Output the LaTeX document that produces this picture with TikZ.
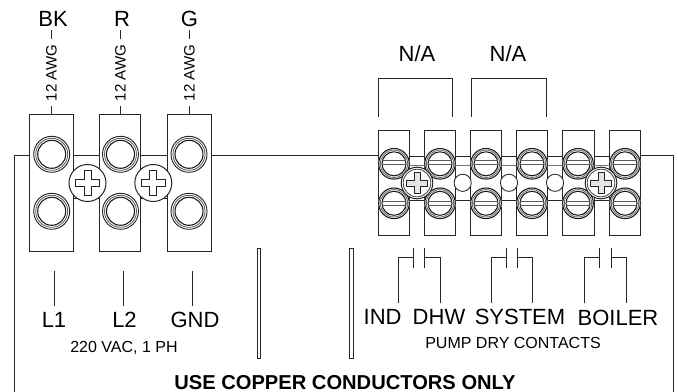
\documentclass[tikz,border=0pt]{standalone}
\usepackage{fontspec}
\setmainfont{Liberation Sans}
\tikzset{
 ln/.style={draw=black!85,line width=0.75pt},
 lab/.style={inner sep=0pt,font=\fontsize{16.5}{18}\selectfont},
 sm/.style={inner sep=0pt,font=\fontsize{12}{14}\selectfont},
 vlab/.style={inner sep=0pt,rotate=90,font=\fontsize{11.3}{13}\selectfont},
}
\newcommand{\bigscrew}[2]{%
 \fill[white] (#1,#2) circle (18.3);
 \draw[black!85,line width=0.7pt] (#1,#2) circle (18);
 \draw[black!65,line width=0.6pt] (#1,#2) circle (16);
 \draw[black!90,line width=0.8pt] (#1,#2) circle (14);
 }
\newcommand{\phil}[4]{%
 \fill[white] (#1,#2) circle (#3);
 \draw[ln] (#1,#2) circle (#3);
 \draw[black!85,line width=0.6pt,fill=black!#4] (#1-#3*0.19,#2-#3*0.66)--(#1+#3*0.19,#2-#3*0.66)--(#1+#3*0.19,#2-#3*0.19)--(#1+#3*0.66,#2-#3*0.19)--(#1+#3*0.66,#2+#3*0.19)--(#1+#3*0.19,#2+#3*0.19)--(#1+#3*0.19,#2+#3*0.66)--(#1-#3*0.19,#2+#3*0.66)--(#1-#3*0.19,#2+#3*0.19)--(#1-#3*0.66,#2+#3*0.19)--(#1-#3*0.66,#2-#3*0.19)--(#1-#3*0.19,#2-#3*0.19)--cycle;}
\newcommand{\slotscrew}[4]{%
 \fill[white] (#1,#2) circle (15.8);
 \draw[black!90,line width=0.8pt] (#1,#2) circle (15.3);
 \draw[black!60,line width=0.6pt] (#1,#2) circle (13.7);
 \draw[black!90,line width=0.8pt] (#1,#2) circle (12);
 \draw[black!65,line width=0.6pt] (#1-12,#2+#3)--(#1+12,#2+#3) (#1-12,#2+#4)--(#1+12,#2+#4);
 }
\begin{document}
\begin{tikzpicture}[x=0.75pt,y=-0.75pt]
\useasboundingbox (0,0) rectangle (678,392);
\fill[white] (0,0) rectangle (678,392);
% frame
\draw[ln] (14,392)--(14,156)--(29.3,156);
\draw[ln] (73.3,156)--(99.7,156) (140.7,156)--(167.3,156) (211.3,156)--(378.3,156);
\draw[ln] (640.3,156)--(673.3,156)--(673.3,392);
% left blocks
\draw[ln] (29.3,251)--(29.3,114.3)--(73.3,114.3)--(73.3,251)--cycle;
\draw[ln] (99.7,251)--(99.7,114.3)--(140.7,114.3)--(140.7,251)--cycle;
\draw[ln] (167.3,251)--(167.3,114.3)--(211.3,114.3)--(211.3,251)--cycle;
\coordinate (w1) at (51.3,114.3);
\coordinate (w2) at (120.3,114.3);
\coordinate (w3) at (189.3,114.3);
\draw[ln] (w1)--(51.3,106.5) (51.3,39)--(51.3,30);
\draw[ln] (w2)--(120.3,106.5) (120.3,39)--(120.3,30);
\draw[ln] (w3)--(189.3,106.5) (189.3,39)--(189.3,30);
\node[vlab] (a1) at (51.5,73) {12 AWG};
\node[vlab] (a2) at (120.5,73) {12 AWG};
\node[vlab] (a3) at (189.5,73) {12 AWG};
\node[lab] (bk) at (53,19) {BK};
\node[lab] (r) at (122,19) {R};
\node[lab] (g) at (189.5,19) {G};
\draw[ln] (73.3,198.5)--(99.7,198.5) (140.7,198.5)--(167.3,198.5);
\foreach \x in {51.7,120.5,189}{\bigscrew{\x}{154.3}\bigscrew{\x}{211.3}}
\phil{87.5}{183}{18.5}{0}\phil{153.3}{183}{18.5}{0}
% right blocks
\foreach \x/\w in {378.3/31.4,424.3/31.4,470.3/31.4,516.7/31,562.7/31.3,609.3/31}
 \draw[ln] (\x,235.5)--(\x,131)--(\x+\w,131)--(\x+\w,235.5)--cycle;
\foreach \a/\b in {409.7/424.3,455.7/470.3,501.7/516.7,547.7/562.7,594/609.3}{
 \draw[ln] (\a,156.3)--(\b,156.3) (\a,200.3)--(\b,200.3);
 \draw[black!55,line width=0.6pt] (\a,165)--(\b,165);}
\foreach \x in {394,440,486,532,578,625}{\slotscrew{\x}{163.8}{-3.5}{0.6}\slotscrew{\x}{203.3}{-2.3}{2.4}}
\phil{417}{183}{15.8}{10}\phil{601}{183}{15.8}{10}
\draw[black!75,line width=0.6pt] (417,183) circle (13.8) (601,183) circle (13.8);
\foreach \x in {462.7,509,555} \draw[black!85,line width=0.65pt,fill=white] (\x,182.8) circle (8.6);
% N/A
\draw[ln] (378.5,117)--(378.5,78.5)--(452.5,78.5)--(452.5,117);
\draw[ln] (471.5,117)--(471.5,78.5)--(546,78.5)--(546,117);
\node[lab] (na1) at (417,54) {N/A};
\node[lab] (na2) at (508,54) {N/A};
% bars
\draw[black!85,line width=0.6pt] (257,248) rectangle (260.7,358);
\draw[black!85,line width=0.6pt] (349.4,248) rectangle (353,358);
% left leads
\draw[ln] (54,271)--(54,305.7) (123,271)--(123,305.7) (192.6,271)--(192.6,305.7);
\node[lab] (l1) at (54,320) {L1};
\node[lab] (l2) at (124.5,320) {L2};
\node[lab] (gnd) at (195,320) {GND};
\node[sm] (vac) at (124,348) {220 VAC, 1 PH};
% contacts
\foreach \a/\b/\c/\d in {398.7/413.5/424.8/440,491.3/506/517.4/532,584/599/611/626}{
 \draw[ln] (\a,303)--(\a,257.5)--(\b,257.5) (\b,247.5)--(\b,268);
 \draw[ln] (\c,247.5)--(\c,268) (\c,257.5)--(\d,257.5)--(\d,303);}
\node[lab] (ind) at (382.6,317) {IND};
\node[lab] (dhw) at (439,317) {DHW};
\node[lab] (sys) at (520,317) {SYSTEM};
\node[lab] (boil) at (618,318) {BOILER};
\node[sm] (pump) at (513,343) {PUMP DRY CONTACTS};
\node[inner sep=0pt,font=\fontsize{15.1}{17}\selectfont\bfseries] (use) at (345,382.3) {USE COPPER CONDUCTORS ONLY};
\end{tikzpicture}
\end{document}
